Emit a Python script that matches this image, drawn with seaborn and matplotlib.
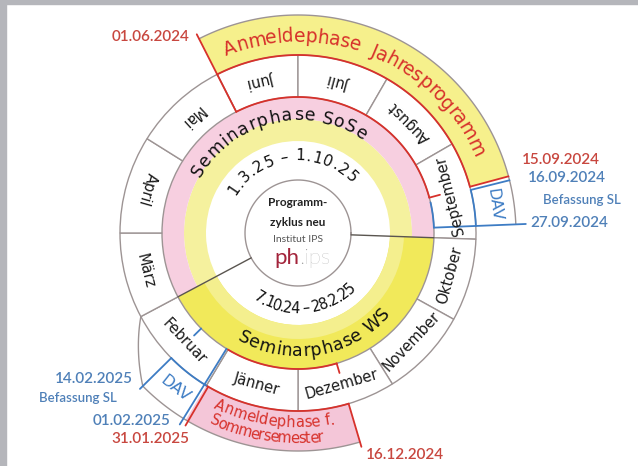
import numpy as np
import matplotlib
matplotlib.use("Agg")
import matplotlib.pyplot as plt
import seaborn as sns
from matplotlib.font_manager import FontProperties
from matplotlib.textpath import TextToPath
from matplotlib.patches import Rectangle

sns.set_theme(style="white")
plt.rcParams['font.family'] = ['DejaVu Sans']

# ---------------- data ----------------
months = ["Juni", "Juli", "August", "September", "Oktober", "November",
          "Dezember", "Jänner", "Februar", "März", "April", "Mai"]
month_days = [30, 31, 31, 30, 31, 30, 31, 31, 28, 31, 30, 31]
# boundary angles (deg, clockwise from Juni start)
month_bounds = [117, 90, 60, 30, -2, -29, -58, -90, -121, -152, -180, -212, -243]

phase_names = ["Seminarphase SoSe", "Seminarphase WS"]
phase_dates = ["1.3.25 – 1.10.25", "7.10.24 – 28.2.25"]
# phase start/end months
sose_span = ("März", "Oktober")
ws_span = ("Oktober", "März")

anm_jp = [("Juni", 1), ("September", 15)]
dav_sep = [("September", 16), ("September", 27)]
anm_ss = [("Dezember", 16), ("Jänner", 31)]
dav_feb = [("Februar", 1), ("Februar", 14)]

labels_red = ["01.06.2024", "15.09.2024", "16.12.2024", "31.01.2025"]
labels_blue = ["16.09.2024", "27.09.2024", "14.02.2025", "01.02.2025"]
befassung = "Befassung SL"

# ---------------- style ----------------
GRAY = "#9d9494"
DARK = "#5a5550"
RED = "#d7312b"
BLUE = "#3d7cc4"
LRED = "#c8473f"
LBLUE = "#4f80b8"
YEL_BAND = "#f6f08c"
YEL_WS = "#f1e95a"
YEL_SOSE = "#f5f19e"
PINK = "#f7cfe0"
PINK_BAND = "#f4c6d8"

R_LOGO, R_DATE, R_SPLIT, R_SEM, R_MON, R_OUT = 53, 92, 114, 136, 178, 218


def date_angle(m, d, end=False):
    i = months.index(m)
    a0, a1 = month_bounds[i], month_bounds[i + 1]
    frac = (d if end else d - 1) / month_days[i]
    return a0 + (a1 - a0) * frac


def month_start(m):
    return month_bounds[months.index(m)]


fig = plt.figure(figsize=(6.38, 4.66), dpi=100)
fig.patch.set_facecolor("white")
cx, cy, R = 298, 233, 233
ax = fig.add_axes([(cx - R) / 638, (466 - cy - R) / 466, 2 * R / 638, 2 * R / 466],
                  projection="polar")
ax.set_ylim(0, R)
ax.set_axis_off()

# frame strips
fig.patches.append(Rectangle((0, 1 - 4 / 466), 1, 4 / 466, transform=fig.transFigure,
                             color="#b5b6bb", zorder=0))
fig.patches.append(Rectangle((0, 0), 6 / 638, 1, transform=fig.transFigure,
                             color="#b5b6bb", zorder=0))

rad = np.radians


def sector(a0, a1, r0, r1, color, z=1, ec="none", lw=0):
    lo, hi = min(a0, a1), max(a0, a1)
    ax.bar(rad((lo + hi) / 2), r1 - r0, width=rad(hi - lo), bottom=r0,
           color=color, edgecolor=ec, linewidth=lw, zorder=z)


def arc(a0, a1, r, color, lw=1.3, z=3):
    t = np.linspace(a0, a1, 120)
    ax.plot(rad(t), np.full_like(t, r, dtype=float), color=color, lw=lw, zorder=z,
            solid_capstyle="round")


def radial(a, r0, r1, color, lw=1.3, z=3):
    ax.plot([rad(a), rad(a)], [r0, r1], color=color, lw=lw, zorder=z,
            solid_capstyle="round")


t2p = TextToPath()


def adv(c, fp):
    w1 = t2p.get_text_width_height_descent("x" + c + "x", fp, ismath=False)[0]
    w0 = t2p.get_text_width_height_descent("xx", fp, ismath=False)[0]
    return max(w1 - w0, 0.1)


def arc_text(s, r, a_start, a_end, fs, color, weight="normal"):
    fp = FontProperties(family="DejaVu Sans", size=fs, weight=weight)
    advs = np.array([adv(c, fp) for c in s])
    cum = (np.cumsum(advs) - advs / 2) / advs.sum()
    upper = a_end < a_start
    off = 0.36 * fs * 100 / 72
    rb = r - off if upper else r + off
    for c, f in zip(s, cum):
        if c == " ":
            continue
        a = a_start + (a_end - a_start) * f
        rot = a - 90 if upper else a + 90
        ax.text(rad(a), rb, c, rotation=rot, rotation_mode="anchor", ha="center",
                va="baseline", fontproperties=fp, color=color, zorder=6)


# ---------------- seminar ring ----------------
so0, so1 = month_start(sose_span[0]) + 360, month_start(sose_span[1])
sector(so1, so0, R_DATE, R_SPLIT, YEL_SOSE)
sector(so1, so0, R_SPLIT, R_SEM, PINK)
ws0, ws1 = month_start(ws_span[0]), month_start(ws_span[1])
sector(ws1, ws0, R_DATE, R_SEM, YEL_WS)
sector(ws1, ws0, R_DATE, R_DATE + 14, "#f4ef8e")

# logo circle
ax.bar(0, R_LOGO, width=2 * np.pi, bottom=0, color="white", edgecolor="none", zorder=1)
arc(0, 360, R_LOGO, GRAY, lw=1.0)
# dividers SoSe/WS
radial(so1, R_LOGO, R_SEM, DARK, lw=1.0)
radial(so0, R_LOGO, R_SEM, DARK, lw=1.0)

# ---------------- outer bands ----------------
a_jp0, a_jp1 = date_angle(*anm_jp[0]), date_angle(*anm_jp[1])
a_ds0, a_ds1 = date_angle(*dav_sep[0]), date_angle(*dav_sep[1])
a_ss0, a_ss1 = date_angle(*anm_ss[0]), date_angle(*anm_ss[1], end=True)
a_df0, a_df1 = date_angle(*dav_feb[0]), date_angle(*dav_feb[1])

sector(a_jp1, a_jp0, R_MON, R_OUT, YEL_BAND)
sector(a_ds1, a_jp1, R_MON, R_OUT, "white")
sector(a_ss1, a_ss0, R_MON, R_OUT, PINK_BAND)

# ---------------- month ring ----------------
for i, m in enumerate(months):
    a0, a1 = month_bounds[i], month_bounds[i + 1]
    sector(a1, a0, R_SEM, R_MON, "white", z=2, ec=GRAY, lw=1.0)
    mid = (a0 + a1) / 2
    ax.text(rad(mid), 157, m, rotation=(mid + 90) % 360, rotation_mode="anchor",
            ha="center", va="center", fontsize=10.5, color="#1a1a1a", zorder=6)

# outer gray edges
arc(a_ds1, a_jp0, R_OUT, GRAY, lw=1.0)
arc(a_df1, a_ss0, R_OUT, GRAY, lw=1.0)
t = np.linspace(a_df1, month_start("März"), 40)
ax.plot(rad(t), np.linspace(R_OUT, R_MON, 40), color=GRAY, lw=1.0, zorder=3)

# red outlines
radial(a_jp0, R_SEM, R_OUT + 5, RED)
arc(a_jp1, a_jp0, R_MON, RED)
arc(a_jp1, a_jp0, R_SEM, RED)
radial(a_jp1, R_MON, R_OUT, RED)
radial(a_jp1, R_SEM, R_SEM + 11, RED)
radial(a_ss0, R_MON, R_OUT + 5, RED)
radial(a_ss0, R_SEM, R_SEM + 10, RED)
arc(a_ss1, a_ss0, R_MON, RED)
arc(a_ss1, a_ss0, R_SEM, RED)
radial(a_ss1 + 0.7, R_MON, R_OUT + 5, RED)

# blue outlines
radial(a_ds0, R_MON, R_OUT, BLUE)
arc(a_ds1, a_ds0, R_MON, BLUE)
arc(a_ds1, a_ds0 - 1, R_SEM, BLUE)
radial(a_ds1, R_SEM, R_OUT + 10, BLUE)
radial(a_df0 - 0.7, R_SEM, R_OUT + 7, BLUE)
arc(a_df1, a_df0, R_MON, BLUE)
radial(a_df1, R_MON, R_OUT + 4, BLUE)
radial(a_df1, R_SEM, R_SEM + 10, BLUE)

# ---------------- curved texts ----------------
arc_text("Anmeldephase  Jahresprogramm", 198, 112, 23, 13.5, RED)
arc_text(phase_names[0], 119, 151, 55, 12.5, "#111111")
arc_text(phase_names[1], 117, 240, 319, 12.5, "#111111")
arc_text(phase_dates[0], 78, 150, 42, 11, "#111111")
arc_text(phase_dates[1], 75, 236, 316, 10.5, "#111111")
arc_text("Anmeldephase f.", 189, 244, 281, 10.5, RED)
arc_text("Sommersemester", 205, 245, 277, 10.5, RED)

mid_ds = (a_ds0 + a_ds1) / 2
ax.text(rad(mid_ds), 198, "DAV", rotation=mid_ds - 90, rotation_mode="anchor",
        ha="center", va="center", fontsize=11.5, color=BLUE, zorder=6)
mid_df = (a_df0 + a_df1) / 2
ax.text(rad(mid_df), 198, "DAV", rotation=mid_df + 90, rotation_mode="anchor",
        ha="center", va="center", fontsize=11.5, color=BLUE, zorder=6)

# ---------------- centre text ----------------
cfont = "Lato"
ax.text(rad(90), 30, "Programm-", ha="center", va="center", fontsize=8.5,
        fontweight="bold", family=cfont, color="#222222", zorder=6)
ax.text(rad(90), 11, "zyklus neu", ha="center", va="center", fontsize=8.5,
        fontweight="bold", family=cfont, color="#222222", zorder=6)
ax.text(rad(-90), 6, "Institut IPS", ha="center", va="center", fontsize=7.5,
        family=cfont, color="#555555", zorder=6)
ax.annotate("ph", xy=(rad(-90), 25), xytext=(1, 0), textcoords="offset points",
            ha="right", va="center", fontsize=16, color="#a3243b", zorder=6,
            family=cfont)
ax.annotate(".ips", xy=(rad(-90), 25), xytext=(1, 0), textcoords="offset points",
            ha="left", va="center", fontsize=16, color="#9a9a9a", zorder=6,
            family=cfont, fontweight="light")

# ---------------- date labels ----------------
lfont = dict(family="Lato", fontweight="semibold", fontsize=11)
sfont = dict(family="Lato", fontweight="semibold", fontsize=9.5)
ax.text(rad(118.9), 224, labels_red[0], ha="right", va="center", color=LRED, **lfont)
ax.text(rad(18.1), 235, labels_red[1], ha="left", va="center", color=LRED, **lfont)
ax.text(rad(287.0), 232, labels_red[2], ha="left", va="center", color=LRED, **lfont)
ax.text(rad(242.1), 233, labels_red[3], ha="right", va="center", color=LRED, **lfont)
ax.text(rad(13.4), 236.5, labels_blue[0], ha="left", va="center", color=LBLUE, **lfont)
ax.text(rad(7.7), 247, befassung, ha="left", va="center", color=LBLUE, **sfont)
ax.text(rad(2.5), 233, labels_blue[1], ha="left", va="center", color=LBLUE, **lfont)
ax.text(rad(221.5), 220, labels_blue[2], ha="right", va="center", color=LBLUE, **lfont)
ax.text(rad(222.4), 245, befassung, ha="right", va="center", color=LBLUE, **sfont)
ax.text(rad(235.9), 227, labels_blue[3], ha="right", va="center", color=LBLUE, **lfont)

fig.savefig("out.png", dpi=100)
